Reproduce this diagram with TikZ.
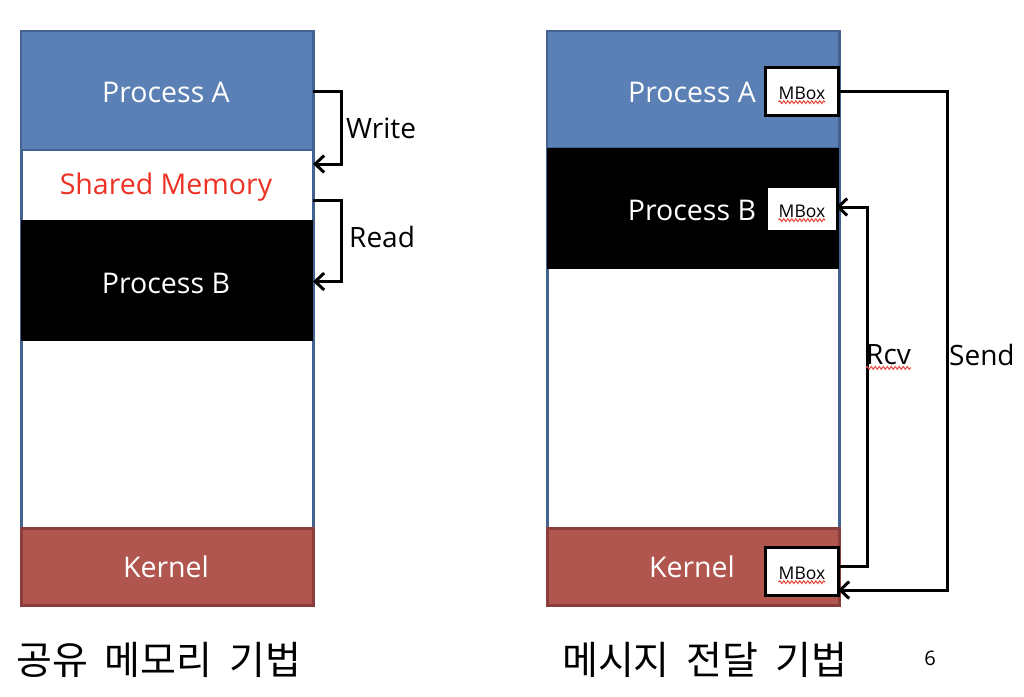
\documentclass[tikz,border=0pt]{standalone}
\usepackage{fontspec}
\setmainfont{Open Sans}
\newfontfamily\kr{Noto Sans CJK KR}
\usetikzlibrary{arrows.meta,decorations.pathmorphing,calc}
\definecolor{pblue}{HTML}{5A80B6}
\definecolor{pblueb}{HTML}{43628F}
\definecolor{kred}{HTML}{B1564F}
\definecolor{kredb}{HTML}{8A3D3A}
\definecolor{sred}{HTML}{EE3124}
\definecolor{wavyred}{HTML}{E8453C}
\newcommand{\ksp}{\hspace{17pt}}
\begin{document}
\begin{tikzpicture}[x=1pt,y=-1pt,
  blk/.style={anchor=north west,inner sep=0pt,outer sep=0pt,minimum width=292pt},
  frame/.style={blk,draw=pblueb,line width=3pt,fill=white},
  procA/.style={blk,fill=pblue,draw=pblueb,line width=2.5pt},
  procB/.style={blk,fill=black},
  kern/.style={blk,fill=kred,draw=kredb,line width=3pt},
  btxt/.style={font=\fontsize{28.5}{30}\selectfont,inner sep=0pt,text=white},
  lbl/.style={font=\fontsize{28}{30}\selectfont,inner sep=0pt},
  mbox/.style={anchor=north west,inner sep=0pt,outer sep=0pt,fill=white,minimum width=73pt,minimum height=48pt},
  mtxt/.style={font=\fontsize{17.5}{19}\selectfont,inner sep=0pt},
  wavy/.style={draw=wavyred,line width=1pt,decorate,decoration={snake,amplitude=1.4pt,segment length=4pt}},
  conn/.style={line width=3pt,line join=miter},
  tip/.style={conn,-{Straight Barb[length=9pt,width=17pt,line width=3pt]}},
  caption/.style={font=\kr\fontsize{39}{42}\selectfont,inner sep=0pt}
]
\useasboundingbox (0,0) rectangle (1024,696);

% ---------- left: shared memory ----------
\node[frame,minimum height=574pt] (lF) at (21,31) {};
\node[procA,minimum height=119pt] (lA) at (21,31) {};
\node[blk,minimum width=286pt,minimum height=70pt] (lS) at (24,150) {};
\node[procB,minimum height=121pt] (lB) at (21,220) {};
\node[kern,minimum height=77pt] (lK) at (21,528) {};
\node[btxt] (lAt) at (166,92) {Process A};
\node[btxt,text=sred] (lSt) at (166,187) {Shared Memory};
\node[btxt] (lBt) at (166,283) {Process B};
\node[btxt] (lKt) at (166,567) {Kernel};

\draw[tip] (lA.east) ++(0,1) -- ++(28,0) |- ($(lS.north east)+(3,14)$);
\draw[tip] ($(lS.north east)+(3,50)$) -- ++(28,0) |- ($(lB.east)+(0,1)$);
\node[lbl,anchor=west] (wl) at (346,128) {Write};
\node[lbl,anchor=west] (rl) at (349,237) {Read};

\node[caption,anchor=west] (cap1) at (16,660) {공유\ksp 메모리\ksp 기법};

% ---------- right: message passing ----------
\node[frame,minimum height=574pt] (rF) at (547,31) {};
\node[procA,minimum height=117pt] (rA) at (547,31) {};
\node[procB,minimum height=121pt] (rB) at (547,148) {};
\node[kern,minimum height=77pt] (rK) at (547,528) {};
\node[btxt] (rAt) at (692,92) {Process A};
\node[btxt] (rBt) at (692,210) {Process B};
\node[btxt] (rKt) at (692,567) {Kernel};

\node[mbox,draw=black,line width=3pt] (mA) at (765,67) {};
\node[mbox,minimum width=68pt,minimum height=42pt] (mB) at (768,188) {};
\node[mbox,draw=black,line width=3pt] (mK) at (765,547) {};
\node[mtxt] (mAt) at (802,93) {MBox};
\node[mtxt] (mBt) at (802,211) {MBox};
\node[mtxt] (mKt) at (802,573) {MBox};
\foreach \n in {mAt,mBt,mKt}{
  \draw[wavy] ([yshift=-3pt]\n.base west) -- ([yshift=-3pt]\n.base east);
}

\draw[tip] (mA.east) -- ++(109,0) |- ($(mK.east)+(0,19)$);
\draw[tip] ($(mK.east)+(0,-5)$) -- ++(29,0) |- ($(mB.east)+(0,-2)$);
\node[lbl,anchor=west] (rcv) at (866,355) {Rcv};
\draw[wavy] ([yshift=-3pt]rcv.base west) -- ([yshift=-3pt]rcv.base east);
\node[lbl,anchor=west] (snd) at (949,355) {Send};

\node[caption,anchor=west] (cap2) at (562,660) {메시지\ksp 전달\ksp 기법};
\node[font=\fontsize{20}{22}\selectfont,inner sep=0pt] (pg) at (930,658) {6};
\end{tikzpicture}
\end{document}
